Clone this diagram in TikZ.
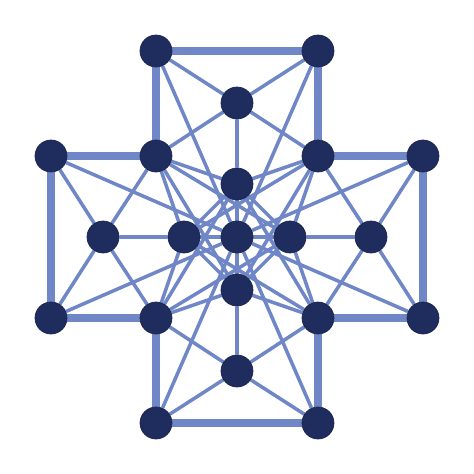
\documentclass[tikz,border=0pt]{standalone}
\usetikzlibrary{backgrounds}
\definecolor{navy}{HTML}{1F2C5E}
\definecolor{edgeblue}{HTML}{6F87C6}
\begin{document}
\begin{tikzpicture}[x=0.02cm,y=0.02cm,
		vertex/.style={circle,fill=navy,draw=navy!85!black,line width=.4pt,minimum size=.64cm,inner sep=0pt},
		rim/.style={edgeblue,line width=4pt},
		spoke/.style={edgeblue,line width=2pt}]
		\useasboundingbox (-237,-237) rectangle (237,237);
		\pgfmathsetmacro{\D}{186}
		\pgfmathsetmacro{\C}{81}
		\pgfmathsetmacro{\M}{134}
		\pgfmathsetmacro{\I}{53}
		% centre and inner ring
		\node[vertex] (o) at (0,0) {};
		\node[vertex] (it) at (0,\I) {};
		\node[vertex] (il) at (-\I,0) {};
		\node[vertex] (ir) at (\I,0) {};
		\node[vertex] (ib) at (0,-\I) {};
		% inner corners
		\node[vertex] (ca) at (-\C,\C) {};
		\node[vertex] (cb) at (\C,\C) {};
		\node[vertex] (cc) at (-\C,-\C) {};
		\node[vertex] (cd) at (\C,-\C) {};
		% arms
		\node[vertex] (t1) at (-\C,\D) {};
		\node[vertex] (t2) at (\C,\D) {};
		\node[vertex] (tm) at (0,\M) {};
		\node[vertex] (l1) at (-\D,\C) {};
		\node[vertex] (l2) at (-\D,-\C) {};
		\node[vertex] (lm) at (-\M,0) {};
		\node[vertex] (r1) at (\D,\C) {};
		\node[vertex] (r2) at (\D,-\C) {};
		\node[vertex] (rm) at (\M,0) {};
		\node[vertex] (b1) at (-\C,-\D) {};
		\node[vertex] (b2) at (\C,-\D) {};
		\node[vertex] (bm) at (0,-\M) {};
		\begin{scope}[on background layer]
			\foreach \a/\b in {t1/t2,t2/cb,cb/r1,r1/r2,r2/cd,cd/b2,b2/b1,b1/cc,cc/l2,l2/l1,l1/ca,ca/t1}
				\draw[rim] (\a)--(\b);
			\foreach \m/\p/\q/\r/\s/\n in {tm/t1/t2/ca/cb/it,lm/l1/l2/ca/cc/il,rm/r1/r2/cb/cd/ir,bm/b1/b2/cc/cd/ib}
				\draw[spoke] (\m)--(\p) (\m)--(\q) (\m)--(\r) (\m)--(\s) (\m)--(\n);
			\foreach \a in {it,il,ir,ib,t1,t2,l1,l2,r1,r2,b1,b2}
				\draw[spoke] (o)--(\a);
			\foreach \i in {it,il,ir,ib}
				\foreach \c in {ca,cb,cc,cd}
					\draw[spoke] (\i)--(\c);
			\foreach \a/\b in {it/il,il/ib,ib/ir,ir/it}
				\draw[spoke] (\a)--(\b);
		\end{scope}
	\end{tikzpicture}
\end{document}
